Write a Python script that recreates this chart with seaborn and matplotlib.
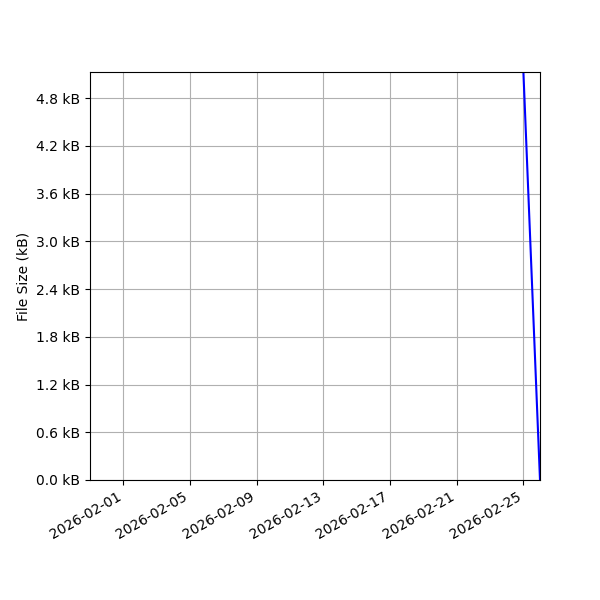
import pandas as pd
import matplotlib
matplotlib.use("Agg")
import matplotlib.pyplot as plt
import matplotlib.dates as mdates
from matplotlib.ticker import MultipleLocator, FuncFormatter
import seaborn as sns

# Data (file size history, kB)
dates = ["2026-01-30", "2026-02-25", "2026-02-26"]
sizes_kb = [8.0, 5.15, 0.0]

df = pd.DataFrame({"date": pd.to_datetime(dates), "size": sizes_kb})

fig, ax = plt.subplots(figsize=(6, 6), dpi=100)
sns.lineplot(data=df, x="date", y="size", color="blue", linewidth=1.5, ax=ax)

ax.set_xlim(df["date"].min(), df["date"].max())
ax.set_ylim(0, 5.13)
ax.yaxis.set_major_locator(MultipleLocator(0.6))
ax.yaxis.set_major_formatter(FuncFormatter(lambda v, p: f"{v:.1f} kB"))
ax.xaxis.set_major_locator(mdates.DayLocator(bymonthday=range(1, 32, 4)))
ax.xaxis.set_major_formatter(mdates.DateFormatter("%Y-%m-%d"))

ax.set_xlabel("")
ax.set_ylabel("File Size (kB)")
ax.grid(True)

fig.autofmt_xdate()
fig.subplots_adjust(left=0.15, right=0.9, top=0.88, bottom=0.2)
fig.savefig("out.png")
